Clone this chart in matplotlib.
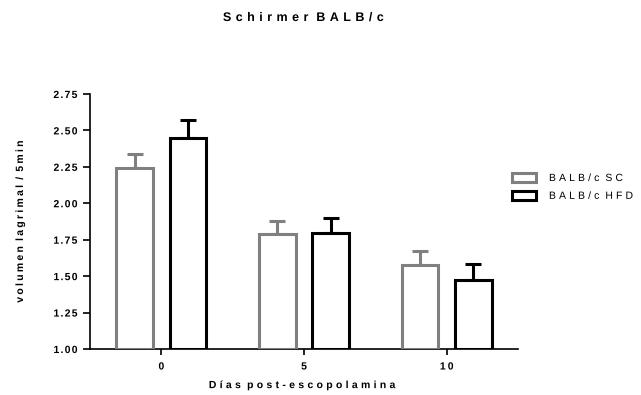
import matplotlib
matplotlib.use("Agg")
import matplotlib.pyplot as plt
import numpy as np
from matplotlib.patheffects import AbstractPathEffect
from matplotlib.path import Path

plt.rcParams['font.family'] = ['Liberation Sans', 'DejaVu Sans']

categories = ["0", "5", "10"]
series_names = ["BALB/c SC", "BALB/c HFD"]
sc_mean = [2.24, 1.79, 1.577]
sc_err = [0.10, 0.09, 0.093]
hfd_mean = [2.445, 1.794, 1.474]
hfd_err = [0.13, 0.103, 0.111]
yticks = [1.00, 1.25, 1.50, 1.75, 2.00, 2.25, 2.50, 2.75]


class LetterSpacing(AbstractPathEffect):
    """Adds extra spacing between glyphs of a text (text stays one string)."""

    def __init__(self, spacing_em, align=0.0):
        super().__init__()
        self.sp = spacing_em * 100.0  # text path units (FONT_SCALE = 100)
        self.align = align

    def draw_path(self, renderer, gc, tpath, affine, rgbFace=None):
        verts = np.array(tpath.vertices, dtype=float).copy()
        codes = tpath.codes
        if codes is None or len(verts) == 0:
            renderer.draw_path(gc, tpath, affine, rgbFace)
            return
        starts = np.where(codes == Path.MOVETO)[0]
        ends = list(starts[1:]) + [len(verts)]
        contours = []
        for s, e in zip(starts, ends):
            m = codes[s:e] != Path.CLOSEPOLY
            xs = verts[s:e, 0][m]
            if len(xs) == 0:
                continue
            contours.append((s, e, xs.min(), xs.max()))
        order = sorted(range(len(contours)), key=lambda i: contours[i][2])
        groups = []
        cur_max = -np.inf
        for i in order:
            s, e, mn, mx = contours[i]
            if not groups or mn > cur_max - 3.0:
                groups.append([i])
                cur_max = mx
            else:
                groups[-1].append(i)
                cur_max = max(cur_max, mx)
        n = len(groups)
        total = (n - 1) * self.sp
        for k, g in enumerate(groups):
            dx = k * self.sp - self.align * total
            for i in g:
                s, e, _, _ = contours[i]
                verts[s:e, 0] += dx
        renderer.draw_path(gc, Path(verts, codes), affine, rgbFace)


fig = plt.figure(figsize=(6.41, 3.95), dpi=100)
ax = fig.add_axes([90 / 641, 1 - 349 / 395, 428 / 641, 255 / 395])

x = np.arange(len(categories))
w = 0.255
off = 0.187
lw = 2.2
gray = "#808080"

ax.bar(x - off, [m - 1.0 for m in sc_mean], width=w, bottom=1.0,
       facecolor="white", edgecolor=gray, linewidth=lw, label=series_names[0], zorder=3)
ax.bar(x + off, [m - 1.0 for m in hfd_mean], width=w, bottom=1.0,
       facecolor="white", edgecolor="black", linewidth=lw, label=series_names[1], zorder=3)
ax.errorbar(x - off, sc_mean, yerr=[np.zeros(3), sc_err], fmt="none",
            ecolor=gray, elinewidth=lw, capsize=6, capthick=lw, zorder=2)
ax.errorbar(x + off, hfd_mean, yerr=[np.zeros(3), hfd_err], fmt="none",
            ecolor="black", elinewidth=lw, capsize=6, capthick=lw, zorder=2)

ax.set_xlim(-0.5, 2.5)
ax.set_ylim(1.0, 2.75)
ax.set_yticks(yticks)
ax.set_yticklabels([f"{t:.2f}" for t in yticks], fontsize=7.5, fontweight="bold")
ax.set_xticks(x)
ax.set_xticklabels(categories, fontsize=7.5, fontweight="bold")
for t in ax.get_yticklabels():
    t.set_path_effects([LetterSpacing(0.12, 1.0)])
for t in ax.get_xticklabels():
    t.set_path_effects([LetterSpacing(0.2, 0.5)])
for s in ["top", "right"]:
    ax.spines[s].set_visible(False)
for s in ["left", "bottom"]:
    ax.spines[s].set_linewidth(1.2)
ax.tick_params(axis="y", width=1.2, length=5, pad=4)
ax.tick_params(axis="x", width=1.2, length=4, pad=5)

ax.set_ylabel("volumen lagrimal / 5min", fontsize=7.5, fontweight="bold",
              path_effects=[LetterSpacing(0.22, 0.5)])
ax.yaxis.set_label_coords(-0.152, 0.5)
ax.set_xlabel("Días post-escopolamina", fontsize=7.5, fontweight="bold",
              path_effects=[LetterSpacing(0.32, 0.5)])
ax.xaxis.set_label_coords(0.495, -0.122)

fig.text(303.5 / 641, 1 - 21 / 395, "Schirmer BALB/c", fontsize=9, fontweight="bold",
         ha="center", va="baseline", path_effects=[LetterSpacing(0.357, 0.5)])

leg = ax.legend(loc="upper left", bbox_to_anchor=(512 / 641, 1 - 173 / 395),
                bbox_transform=fig.transFigure, frameon=False,
                fontsize=7.5, handlelength=2.3, handleheight=0.9, handletextpad=1.25,
                labelspacing=0.75, borderaxespad=0, borderpad=0)
for t in leg.get_texts():
    t.set_path_effects([LetterSpacing(0.3, 0.0)])

fig.savefig("out.png", dpi=100)
